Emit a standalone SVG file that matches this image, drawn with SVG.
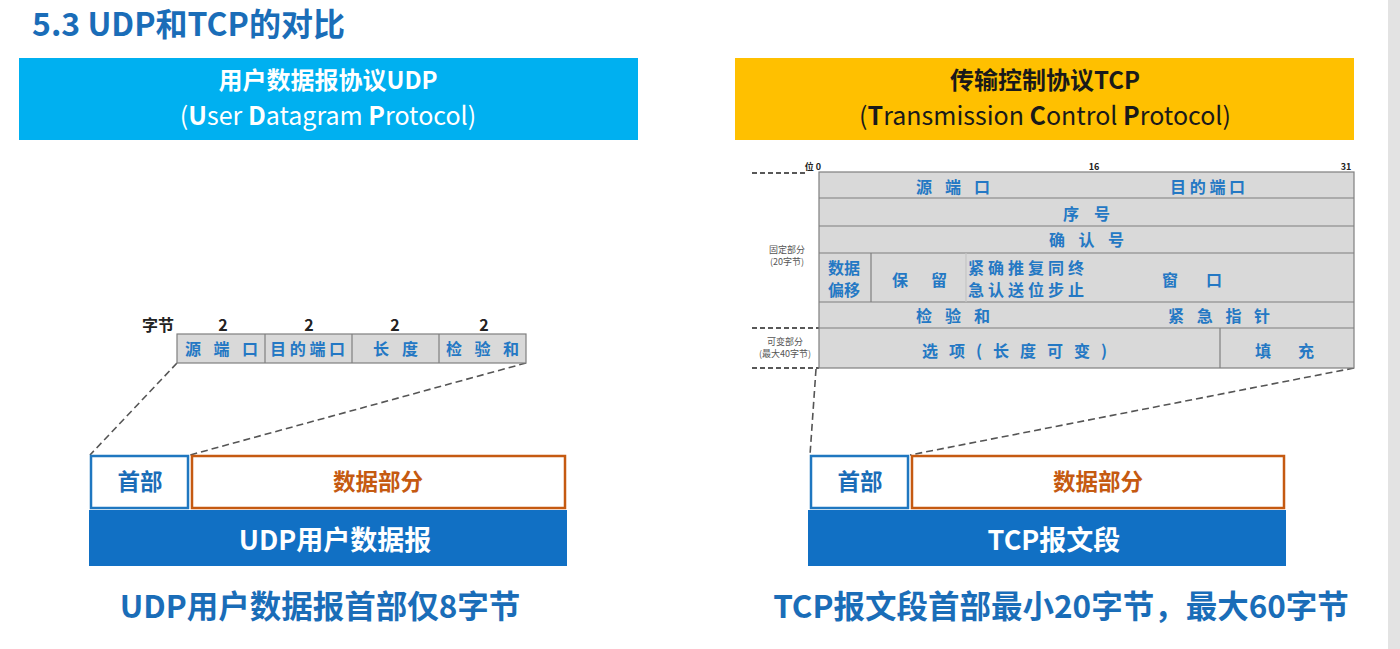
<svg xmlns="http://www.w3.org/2000/svg" width="1400" height="649" viewBox="0 0 1400 649">
<defs>
<style>
text{font-family:"Noto Sans CJK SC","Noto Sans",sans-serif;}
.title{font-size:32px;font-weight:bold;fill:#1a6db8;}
.hdr{font-size:24px;font-weight:bold;text-anchor:middle;}
.hdr2{font-size:25px;text-anchor:middle;}
.fld{fill:#d9d9d9;stroke:#7f7f7f;stroke-width:1.2;}
.ftxt{font-size:16px;font-weight:bold;fill:#2478c4;}
.num{font-size:16px;font-weight:bold;fill:#222;text-anchor:middle;}
.bit{font-size:9px;font-weight:bold;fill:#222;text-anchor:middle;}
.side{font-size:9px;fill:#555;text-anchor:middle;}
.dash{stroke:#555;stroke-width:1.6;stroke-dasharray:7 4;fill:none;}
.dashk{stroke:#222;stroke-width:1.6;stroke-dasharray:5 3;fill:none;}
.head{fill:#fff;stroke:#1f77c0;stroke-width:2.5;}
.data{fill:#fff;stroke:#c55a11;stroke-width:2.5;}
.band{fill:#1170c4;}
.htxt{font-size:22.5px;font-weight:bold;fill:#1a6db8;text-anchor:middle;}
.dtxt{font-size:22.5px;font-weight:bold;fill:#c55a11;text-anchor:middle;}
.btxt{font-size:27px;font-weight:bold;fill:#fff;text-anchor:middle;}
.cap{font-size:31.5px;font-weight:bold;fill:#1a6db8;text-anchor:middle;}
</style>
</defs>
<rect x="0" y="0" width="1400" height="649" fill="#ffffff"/>
<rect x="1388" y="0" width="12" height="649" fill="#e3e3e3"/>
<text class="title" x="32" y="36">5.3 UDP和TCP的对比</text>

<g id="udp-title">
<rect x="19" y="58" width="619" height="82" fill="#00b0f0"/>
<text class="hdr" x="328" y="89" fill="#fff">用户数据报协议UDP</text>
<text class="hdr2" x="328" y="125" fill="#fff">(<tspan font-weight="bold">U</tspan>ser <tspan font-weight="bold">D</tspan>atagram <tspan font-weight="bold">P</tspan>rotocol)</text>
</g>

<g id="tcp-title">
<rect x="735" y="58" width="619" height="82" fill="#ffc000"/>
<text class="hdr" x="1045" y="89" fill="#1a1a1a">传输控制协议TCP</text>
<text class="hdr2" x="1045" y="125" fill="#1a1a1a">(<tspan font-weight="bold">T</tspan>ransmission <tspan font-weight="bold">C</tspan>ontrol <tspan font-weight="bold">P</tspan>rotocol)</text>
</g>

<g id="connectors">
<line class="dash" x1="177" y1="363" x2="90" y2="455"/>
<line class="dash" x1="526" y1="363" x2="190" y2="455"/>
<line class="dash" x1="816" y1="369" x2="810" y2="455"/>
<line class="dash" x1="1354" y1="368" x2="910" y2="455"/>
<line class="dashk" x1="752" y1="173" x2="805" y2="173"/>
<line class="dashk" x1="752" y1="328" x2="819" y2="328"/>
<line class="dashk" x1="752" y1="368" x2="819" y2="368"/>
</g>

<g id="udp-header">
<text class="num" x="158" y="331">字节</text>
<text class="num" x="223" y="331">2</text>
<text class="num" x="309" y="331">2</text>
<text class="num" x="395" y="331">2</text>
<text class="num" x="484" y="331">2</text>
<rect class="fld" x="177" y="334" width="349" height="29"/>
<line stroke="#7f7f7f" stroke-width="1.2" x1="265" y1="334" x2="265" y2="363"/>
<line stroke="#7f7f7f" stroke-width="1.2" x1="352" y1="334" x2="352" y2="363"/>
<line stroke="#7f7f7f" stroke-width="1.2" x1="439" y1="334" x2="439" y2="363"/>
<text class="ftxt" x="185" y="355" letter-spacing="12.5">源端口</text>
<text class="ftxt" x="270" y="355" letter-spacing="3.7">目的端口</text>
<text class="ftxt" x="373" y="355" letter-spacing="13">长度</text>
<text class="ftxt" x="446" y="355" letter-spacing="12.5">检验和</text>
</g>

<g id="udp-datagram">
<rect class="head" x="91" y="456" width="97" height="52"/>
<text class="htxt" x="140" y="490">首部</text>
<rect class="data" x="192" y="456" width="373" height="52"/>
<text class="dtxt" x="378" y="490">数据部分</text>
<rect class="band" x="89" y="510" width="478" height="56"/>
<text class="btxt" x="335" y="550">UDP用户数据报</text>
</g>
<text class="cap" x="320" y="618">UDP用户数据报首部仅8字节</text>

<g id="tcp-header">
<text class="bit" x="813" y="170">位 0</text>
<text class="bit" x="1094" y="170">16</text>
<text class="bit" x="1346" y="170">31</text>
<rect class="fld" x="819" y="172" width="535" height="196"/>
<g stroke="#7f7f7f" stroke-width="1.2">
<line x1="819" y1="198" x2="1354" y2="198"/>
<line x1="819" y1="226" x2="1354" y2="226"/>
<line x1="819" y1="253" x2="1354" y2="253"/>
<line x1="819" y1="302" x2="1354" y2="302"/>
<line x1="819" y1="328" x2="1354" y2="328"/>
<line x1="871" y1="253" x2="871" y2="302"/>
<line x1="966" y1="253" x2="966" y2="302" stroke="#c4c4c4"/>
<line x1="1220" y1="328" x2="1220" y2="368"/>
</g>
<text class="ftxt" x="916" y="193" letter-spacing="13">源端口</text>
<text class="ftxt" x="1170" y="193" letter-spacing="3.7">目的端口</text>
<text class="ftxt" x="1063" y="220" letter-spacing="15">序号</text>
<text class="ftxt" x="1049" y="246" letter-spacing="13.5">确认号</text>
<text class="ftxt" x="828" y="274" font-size="17">数据</text>
<text class="ftxt" x="828" y="296" font-size="17">偏移</text>
<text class="ftxt" x="892" y="286" letter-spacing="23">保留</text>
<text class="ftxt" x="968" y="274" letter-spacing="4">紧确推复同终</text>
<text class="ftxt" x="968" y="296" letter-spacing="4">急认送位步止</text>
<text class="ftxt" x="1162" y="286" letter-spacing="28">窗口</text>
<text class="ftxt" x="916" y="322" letter-spacing="13">检验和</text>
<text class="ftxt" x="1168" y="322" letter-spacing="12.7">紧急指针</text>
<text class="ftxt" x="922" y="357" letter-spacing="11">选项(长度可变)</text>
<text class="ftxt" x="1255" y="357" letter-spacing="27">填充</text>
<text class="side" x="787" y="253">固定部分</text>
<text class="side" x="787" y="265">(20字节)</text>
<text class="side" x="785" y="345">可变部分</text>
<text class="side" x="785" y="357">(最大40字节)</text>
</g>

<g id="tcp-segment">
<rect class="head" x="811" y="456" width="97" height="52"/>
<text class="htxt" x="860" y="490">首部</text>
<rect class="data" x="912" y="456" width="372" height="52"/>
<text class="dtxt" x="1098" y="490">数据部分</text>
<rect class="band" x="808" y="510" width="478" height="56"/>
<text class="btxt" x="1054" y="550">TCP报文段</text>
</g>
<text class="cap" x="1061" y="618">TCP报文段首部最小20字节，最大60字节</text>
</svg>
